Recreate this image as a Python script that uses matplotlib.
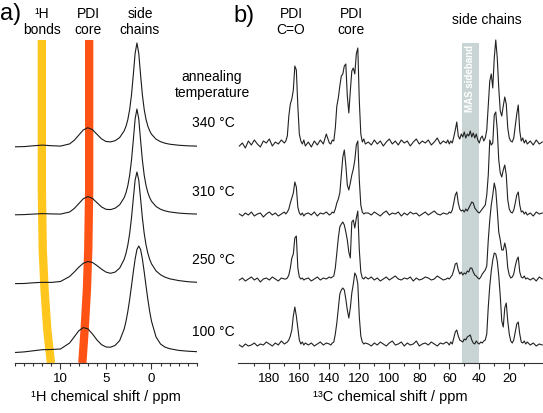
import numpy as np
import matplotlib
matplotlib.use("Agg")
import matplotlib.pyplot as plt
from matplotlib.ticker import MultipleLocator, FixedLocator

plt.rcParams["font.family"] = ["Liberation Sans", "DejaVu Sans"]

# ------------------------------
# 1H MAS spectra (panel a)
# ------------------------------
h1_ppm = [15, 14, 13, 12, 11, 10, 9, 8.5, 8, 7.5, 7, 6.5, 6, 5.5, 5, 4.5, 4, 3.5,
          3.0, 2.8, 2.6, 2.4, 2.2, 2.0, 1.8, 1.6, 1.4, 1.2, 1.0, 0.8, 0.6, 0.4, 0.2, 0.0,
          -0.5, -1, -1.5, -2, -3, -4, -5]

h1_340 = [0.2, 0.4, 1.2, 1.9, 1.3, 0.9, 3.1, 6.6, 11.8, 17.0, 19.3, 17.4, 12.8, 8.2, 5.5, 5.1, 6.3, 9.4,
          16.2, 20.8, 27.5, 37.4, 52, 72, 93.6, 104, 93.6, 72, 52, 37.4, 27.5, 20.8, 16.2, 12.8,
          7.8, 5.3, 3.75, 2.8, 1.74, 1.18, 0.85]
h1_310 = [0.2, 0.4, 0.9, 1.4, 1.1, 0.9, 3.0, 6.4, 11.3, 16.2, 18.4, 16.7, 12.4, 8.1, 5.7, 5.4, 6.8, 10.2,
          17.4, 22.3, 29.4, 39.7, 54.7, 74.8, 96, 106, 96, 74.8, 54.7, 39.7, 29.4, 22.3, 17.4, 13.8,
          8.5, 5.7, 4.1, 3.05, 1.9, 1.28, 0.93]
h1_250 = [0.4, 0.5, 1.2, 1.7, 1.6, 2.5, 7.5, 11.9, 16.7, 20.7, 22.5, 21.6, 18.5, 14.9, 11.9, 10.7, 11.9, 15.9,
          24.7, 30.7, 39, 50.4, 66, 85.3, 103.9, 112, 103.9, 85.3, 66, 50.4, 39, 30.7, 24.7, 20.2,
          13.1, 9.2, 6.8, 5.2, 3.4, 2.3, 1.7]
h1_100 = [0.5, 1.1, 2.2, 3.3, 3.5, 4.0, 10.0, 16, 22.1, 25.4, 24.2, 19.2, 13.1, 8.4, 6.0, 5.8, 7.6, 12.4,
          24.1, 31.8, 41.6, 53.5, 67, 81, 94, 103.5, 107, 103.5, 94, 81, 67, 53.5, 41.6, 31.8,
          16, 8.9, 5.8, 4.3, 2.6, 1.8, 1.3]

h1_traces = [h1_100, h1_250, h1_310, h1_340]
h1_offsets = [0, 69, 138, 206]

# guide bands: (ppm, height) along the band, bottom to top
band_y = [-10, 23, 63, 103, 163, 313]
hbond_ppm = [11.05, 11.45, 11.75, 11.95, 12.05, 12.05]
core_ppm = [7.6, 7.35, 7.1, 6.95, 6.85, 6.85]

# ------------------------------
# 13C CP MAS spectra (panel b)
# ------------------------------
c13_ppm = np.concatenate([np.arange(200, 169, -2), np.arange(169, 155, -1),
                          np.arange(154, 139, -2), np.arange(139, 115, -1),
                          np.arange(114, 61, -2), np.arange(61, 7, -1),
                          np.arange(6, -3, -2)])

c13_340 = ([0, 3, -2, 5, 1, 6, 2, -1, 5, 3, 7, 0, 4, 2, 6, 3]
           + [5, 10, 30, 42, 47, 56, 80, 76, 40, 12, 5, 2, 6, 0]
           + [4, -1, 5, 1, 6, 2, 12, 3]
           + [2, 6, 5, 18, 40, 48, 60, 70, 72, 80, 82, 50, 33, 55, 75, 78, 72, 92, 98, 45, 12, 4, 7, 2]
           + [4, 1, 6, 2, 5, 0, 4, 7, 2, 5, 1, 6, 3, 5, 0, 4, 7, 2, 5, 3, 6, 1, 4, 8, 2, 5, 3]
           + [6, 2, 5, 3, 9, 16, 24, 10, 7, 12, 9, 14, 8, 12, 10, 15, 9, 13, 8, 12,
              6, 3, 8, 10, 5, 8, 16, 40, 65, 72, 58, 88, 106, 88, 58, 35, 30, 40, 49, 42,
              18, 8, 5, 4, 8, 20, 32, 41, 15, 5, 8, 3, 6, 2]
           + [5, 1, 6, 2, 4])
c13_310 = ([1, -1, 2, 0, 3, -1, 1, 2, -2, 1, 3, 0, 2, -1, 1, 3]
           + [1, 3, 6, 12, 17, 22, 33, 28, 8, 2, 0, 2, -1, 1]
           + [2, 0, 3, -1, 2, 1, 3, 0]
           + [1, 3, 2, 6, 12, 16, 22, 40, 58, 65, 50, 30, 25, 32, 40, 46, 55, 70, 74, 35, 10, 3, 1, 2]
           + [2, 0, 3, 1, -1, 2, 4, 0, 2, 1, 3, -1, 2, 0, 3, 1, 2, -1, 1, 3, 0, 2, 4, 1, 0, 2, 1]
           + [1, 3, 2, 5, 12, 20, 23, 12, 6, 4, 5, 3, 6, 4, 7, 10, 13, 12, 7, 5,
              3, 2, 4, 6, 8, 10, 20, 40, 75, 70, 72, 100, 103, 85, 55, 42, 38, 45, 50, 40,
              15, 6, 3, 2, 5, 12, 20, 23, 10, 3, 4, 1, 3, 0]
           + [2, -1, 3, 1, 2])
c13_250 = ([0, 2, -1, 1, 3, 0, 2, -2, 1, 2, 0, 3, 1, -1, 2, 1]
           + [1, 2, 5, 12, 22, 26, 42, 44, 12, 3, 1, 2, 0, 1]
           + [2, -1, 1, 3, 0, 2, 1, 3]
           + [2, 3, 4, 12, 27, 42, 53, 56, 58, 55, 48, 40, 28, 22, 58, 60, 52, 62, 69, 30, 8, 2, 1, 3]
           + [1, 3, 0, 2, -1, 1, 3, 0, 2, 4, 1, 0, 2, 1, 3, -1, 2, 0, 1, 3, 2, 0, 1, 4, 2, 0, 1]
           + [2, 1, 3, 5, 10, 16, 17, 10, 6, 8, 5, 7, 6, 9, 8, 12, 12, 8, 5, 4,
              2, 1, 3, 6, 8, 10, 14, 40, 60, 75, 85, 97, 90, 70, 48, 40, 30, 30, 37, 30,
              12, 5, 2, 3, 6, 14, 20, 23, 8, 3, 2, 4, 1, 2]
           + [0, 2, -1, 3, 1])
c13_100 = ([1, -1, 2, 0, 1, 3, 0, 2, 1, 4, 2, 0, 3, 1, 5, 2]
           + [3, 4, 6, 10, 16, 30, 39, 30, 18, 6, 2, 4, 1, 3]
           + [1, 3, 0, 2, 4, 1, 3, 2]
           + [1, 3, 4, 12, 23, 38, 52, 56, 58, 56, 47, 36, 28, 38, 53, 62, 73, 70, 62, 29, 10, 4, 2, 3]
           + [2, 0, 3, 1, 4, 2, 0, 3, 5, 1, 2, 4, 0, 3, 1, 2, 5, 0, 2, 3, 1, 4, 2, 0, 3, 2, 4]
           + [3, 1, 4, 2, 8, 14, 16, 10, 6, 5, 4, 7, 6, 9, 10, 11, 6, 3, 2, 5,
              3, 2, 4, 3, 5, 6, 12, 39, 60, 75, 86, 93, 92, 85, 70, 50, 25, 19, 38, 43,
              25, 12, 5, 3, 6, 14, 22, 24, 12, 4, 3, 5, 2, 4]
           + [1, 3, 0, 2, 1])

c13_traces = [c13_100, c13_250, c13_310, c13_340]
c13_offsets = [0, 66, 131, 200]

sideband_ppm = (51.3, 40.5)

temps = ["100 °C", "250 °C", "310 °C", "340 °C"]
temp_y = [332, 260, 192, 123]

W, H = 543, 413


def fpos(x, y):
    return x / W, 1 - y / H


def style_axis(ax):
    for side in ["top", "left", "right"]:
        ax.spines[side].set_visible(False)
    ax.spines["bottom"].set_color("#333333")
    ax.spines["bottom"].set_linewidth(0.8)
    ax.set_yticks([])
    ax.patch.set_alpha(0)
    ax.tick_params(axis="x", which="major", direction="out", length=4.5, width=0.8,
                   pad=2.5, labelsize=9.5, color="#333333")
    ax.tick_params(axis="x", which="minor", direction="out", length=2.5, width=0.8,
                   color="#333333")


fig = plt.figure(figsize=(W / 100, H / 100), dpi=100)

# ---- panel a ----
ax1 = fig.add_axes([15 / W, 50 / H, 182 / W, 333 / H])
ax1.plot(hbond_ppm, band_y, color="#ffc61e", lw=6, solid_capstyle="butt", zorder=1)
ax1.plot(core_ppm, band_y, color="#ff5316", lw=6, solid_capstyle="butt", zorder=1)
for trace, off in zip(h1_traces, h1_offsets):
    ax1.plot(h1_ppm, np.array(trace) + off, color="#1a1a1a", lw=0.8, zorder=2)
ax1.set_xlim(15, -5)
ax1.set_ylim(-10, 323)
ax1.xaxis.set_major_locator(FixedLocator([10, 5, 0]))
ax1.xaxis.set_minor_locator(MultipleLocator(1))
style_axis(ax1)
ax1.set_xlabel("¹H chemical shift / ppm", fontsize=10.5, labelpad=4)

# ---- panel b ----
ax2 = fig.add_axes([238 / W, 50 / H, 305 / W, 333 / H])
ax2.axvspan(*sideband_ppm, ymin=0, ymax=(303 + 17) / 333, color="#c9d5d5", lw=0, zorder=1)
ax2.text(sum(sideband_ppm) / 2, 346 - 79, "MAS sideband", rotation=90, color="white",
         fontsize=7, fontweight="bold", ha="center", va="center", zorder=1.5)
for trace, off in zip(c13_traces, c13_offsets):
    ax2.plot(c13_ppm, np.array(trace) + off, color="#222222", lw=0.8, zorder=2)
ax2.set_xlim(200.9, -2.5)
ax2.set_ylim(-17, 316)
ax2.xaxis.set_major_locator(FixedLocator([180, 160, 140, 120, 100, 80, 60, 40, 20]))
ax2.xaxis.set_minor_locator(FixedLocator(list(range(190, -1, -20))))
style_axis(ax2)
ax2.set_xlabel("¹³C chemical shift / ppm", fontsize=10.5, labelpad=4)

# ---- labels ----
fig.text(*fpos(0, 14), "a)", fontsize=17, ha="left", va="center")
fig.text(*fpos(233, 16), "b)", fontsize=17, ha="left", va="center")

head = dict(fontsize=10, ha="center", va="center", linespacing=1.15)
fig.text(*fpos(42, 22), "¹H\nbonds", **head)
fig.text(*fpos(88, 22), "PDI\ncore", **head)
fig.text(*fpos(140, 22), "side\nchains", **head)
fig.text(*fpos(291, 22), "PDI\nC=O", **head)
fig.text(*fpos(351, 22), "PDI\ncore", **head)
fig.text(*fpos(487, 20), "side chains", **head)
fig.text(*fpos(212, 85), "annealing\ntemperature", **head)
for label, y in zip(temps, temp_y):
    fig.text(*fpos(213, y), label, **head)

fig.savefig("out.png", dpi=100)
